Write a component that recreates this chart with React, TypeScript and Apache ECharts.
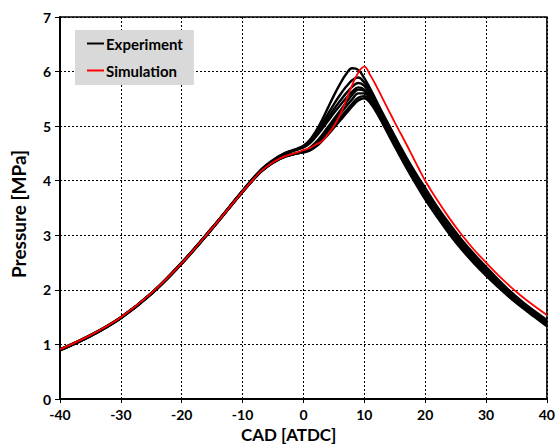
import React, { useEffect, useRef } from "react";
import * as echarts from "echarts";

// Crank angle grid (deg ATDC) shared by all pressure traces
const CAD = [-40, -35, -30, -25, -20, -15, -10, -7, -5, -3, -1, 0, 1, 2, 3, 4, 5, 6, 7, 8, 9, 10, 11, 12, 13, 14, 15, 16, 17, 18, 19, 20, 22, 24, 26, 28, 30, 32, 34, 36, 38, 40];

// Measured in-cylinder pressure of individual cycles [MPa]
const exp1 = [0.90, 1.16, 1.49, 1.93, 2.49, 3.13, 3.82, 4.20, 4.38, 4.51, 4.59, 4.64, 4.74, 4.90, 5.10, 5.33, 5.56, 5.77, 5.95, 6.06, 6.03, 5.88, 5.68, 5.46, 5.24, 5.03, 4.82, 4.61, 4.41, 4.22, 4.04, 3.87, 3.52, 3.21, 2.92, 2.66, 2.42, 2.19, 1.97, 1.78, 1.61, 1.45];
const exp2 = [0.91, 1.17, 1.50, 1.94, 2.50, 3.14, 3.81, 4.19, 4.37, 4.50, 4.58, 4.63, 4.72, 4.86, 5.03, 5.22, 5.40, 5.57, 5.72, 5.84, 5.89, 5.80, 5.63, 5.43, 5.22, 5.01, 4.80, 4.59, 4.39, 4.19, 4.00, 3.80, 3.46, 3.15, 2.87, 2.61, 2.38, 2.15, 1.94, 1.75, 1.58, 1.42];
const exp3 = [0.89, 1.15, 1.48, 1.92, 2.48, 3.12, 3.80, 4.18, 4.37, 4.50, 4.58, 4.62, 4.70, 4.83, 4.98, 5.15, 5.31, 5.46, 5.60, 5.72, 5.79, 5.74, 5.58, 5.39, 5.18, 4.97, 4.76, 4.55, 4.35, 4.15, 3.96, 3.77, 3.43, 3.12, 2.84, 2.58, 2.35, 2.13, 1.92, 1.73, 1.56, 1.40];
const exp4 = [0.90, 1.16, 1.49, 1.93, 2.49, 3.13, 3.81, 4.19, 4.36, 4.49, 4.57, 4.61, 4.68, 4.80, 4.94, 5.09, 5.24, 5.38, 5.51, 5.63, 5.71, 5.67, 5.53, 5.35, 5.14, 4.93, 4.72, 4.52, 4.32, 4.12, 3.93, 3.75, 3.41, 3.10, 2.82, 2.56, 2.33, 2.11, 1.90, 1.72, 1.55, 1.39];
const exp5 = [0.91, 1.17, 1.50, 1.94, 2.50, 3.14, 3.81, 4.17, 4.34, 4.45, 4.51, 4.54, 4.60, 4.70, 4.83, 4.98, 5.13, 5.28, 5.43, 5.57, 5.67, 5.65, 5.52, 5.34, 5.13, 4.92, 4.71, 4.50, 4.30, 4.11, 3.92, 3.74, 3.40, 3.09, 2.81, 2.55, 2.32, 2.10, 1.89, 1.71, 1.54, 1.38];
const exp6 = [0.90, 1.16, 1.49, 1.93, 2.48, 3.12, 3.80, 4.16, 4.33, 4.44, 4.50, 4.53, 4.58, 4.67, 4.79, 4.93, 5.08, 5.22, 5.36, 5.49, 5.60, 5.60, 5.48, 5.30, 5.10, 4.89, 4.68, 4.47, 4.27, 4.08, 3.89, 3.71, 3.38, 3.07, 2.79, 2.54, 2.31, 2.09, 1.88, 1.70, 1.53, 1.36];
const exp7 = [0.89, 1.15, 1.48, 1.92, 2.48, 3.12, 3.79, 4.16, 4.33, 4.44, 4.50, 4.52, 4.56, 4.64, 4.75, 4.88, 5.02, 5.15, 5.28, 5.41, 5.52, 5.55, 5.45, 5.27, 5.07, 4.86, 4.65, 4.44, 4.24, 4.05, 3.86, 3.68, 3.35, 3.04, 2.76, 2.51, 2.28, 2.07, 1.87, 1.69, 1.52, 1.35];
const exp8 = [0.90, 1.16, 1.49, 1.93, 2.49, 3.13, 3.80, 4.17, 4.34, 4.45, 4.50, 4.52, 4.55, 4.62, 4.72, 4.84, 4.97, 5.10, 5.23, 5.36, 5.47, 5.51, 5.42, 5.25, 5.05, 4.84, 4.63, 4.42, 4.22, 4.03, 3.84, 3.66, 3.33, 3.02, 2.74, 2.49, 2.26, 2.05, 1.85, 1.67, 1.50, 1.33];

// Simulated pressure trace [MPa]
const sim = [0.91, 1.17, 1.50, 1.94, 2.49, 3.13, 3.80, 4.17, 4.34, 4.45, 4.52, 4.56, 4.60, 4.66, 4.72, 4.85, 5.00, 5.20, 5.47, 5.75, 5.98, 6.09, 5.93, 5.73, 5.51, 5.29, 5.07, 4.86, 4.65, 4.43, 4.21, 4.00, 3.64, 3.31, 3.01, 2.74, 2.50, 2.27, 2.06, 1.87, 1.70, 1.54];

const EXPERIMENTS = [exp8, exp7, exp6, exp5, exp4, exp3, exp2, exp1];

const FONT = "Lato, 'Open Sans', sans-serif";

export default function App() {
  const ref = useRef<HTMLDivElement>(null);

  useEffect(() => {
    if (!ref.current) return;
    const chart = echarts.init(ref.current, null, { renderer: "svg" });

    const pairs = (ys: number[]) => CAD.map((x, i) => [x, ys[i]]);

    const expSeries = EXPERIMENTS.map((ys) => ({
      name: "Experiment",
      type: "line",
      data: pairs(ys),
      smooth: 0.4,
      showSymbol: false,
      lineStyle: { color: "#000", width: 2.4 },
      itemStyle: { color: "#000" },
    }));

    chart.setOption({
      animation: false,
      backgroundColor: "#fff",
      grid: {
        left: 60,
        right: 11,
        top: 17,
        bottom: 49,
        show: true,
        borderColor: "#000",
        borderWidth: 1.5,
      },
      legend: {
        data: ["Experiment", "Simulation"],
        orient: "vertical",
        left: 75,
        top: 30,
        padding: [6, 11, 7, 12],
        itemGap: 12,
        itemWidth: 17,
        itemHeight: 2,
        icon: "rect",
        backgroundColor: "#d9d9d9",
        textStyle: { fontFamily: FONT, fontWeight: "bold", fontSize: 15, color: "#000", padding: [0, 0, 0, -3] },
      },
      xAxis: {
        type: "value",
        min: -40,
        max: 40,
        interval: 10,
        axisLine: { onZero: false, lineStyle: { color: "#000", width: 2 } },
        axisTick: { show: true, length: 4, lineStyle: { color: "#000" } },
        axisLabel: { fontFamily: FONT, fontWeight: "bold", fontSize: 14, color: "#000", margin: 8 },
        splitLine: { show: true, lineStyle: { color: "#000", type: [2, 2], width: 1 } },
      },
      yAxis: {
        type: "value",
        min: 0,
        max: 7,
        interval: 1,
        axisLine: { show: true, onZero: false, lineStyle: { color: "#000", width: 2 } },
        axisTick: { show: true, length: 5, lineStyle: { color: "#000" } },
        axisLabel: { fontFamily: FONT, fontWeight: "bold", fontSize: 14, color: "#000", margin: 9 },
        splitLine: { show: true, lineStyle: { color: "#000", type: [2, 2], width: 1 } },
      },
      graphic: [
        {
          type: "text",
          left: 241,
          top: 426,
          style: { text: "CAD [ATDC]", fontFamily: FONT, fontWeight: "bold", fontSize: 17, fill: "#000" },
        },
        {
          type: "text",
          x: 9,
          y: 278,
          rotation: Math.PI / 2,
          style: {
            text: "Pressure [MPa]",
            fontFamily: FONT,
            fontWeight: "bold",
            fontSize: 19,
            fill: "#000",
            verticalAlign: "top",
          },
        },
      ],
      series: [
        ...expSeries,
        {
          name: "Simulation",
          type: "line",
          data: pairs(sim),
          smooth: 0.4,
          showSymbol: false,
          lineStyle: { color: "#ff0000", width: 1.8 },
          itemStyle: { color: "#ff0000" },
          z: 3,
        },
      ],
    });

    return () => chart.dispose();
  }, []);

  return <div ref={ref} style={{ width: 558, height: 448, position: "absolute", left: 0, top: 0 }} />;
}
